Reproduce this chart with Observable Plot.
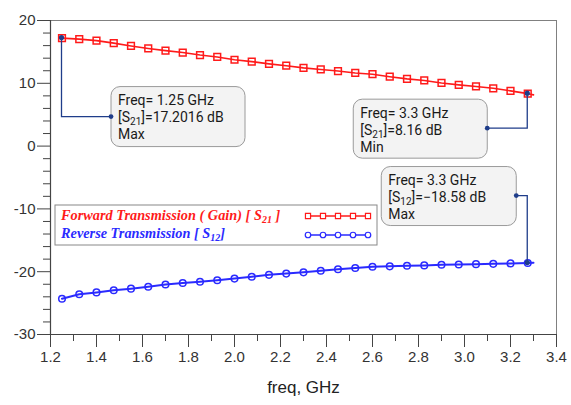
<!DOCTYPE html>
<html><head><meta charset="utf-8">
<script src="https://cdn.jsdelivr.net/npm/d3@7"></script>
<script src="https://cdn.jsdelivr.net/npm/@observablehq/plot@0.6"></script>
<style>
body{margin:0;background:#fff}
#chart{position:relative;width:571px;height:405px}
</style>
</head><body><div id="chart"></div>
<script>
// ---- data ----
const freq = [1.25,1.325,1.4,1.475,1.55,1.625,1.7,1.775,1.85,1.925,2.0,2.075,2.15,2.225,2.3,2.375,2.45,2.525,2.6,2.675,2.75,2.825,2.9,2.975,3.05,3.125,3.2,3.275,3.3];
const s21 = [17.20,17.04,16.8,16.4,15.95,15.55,15.2,14.9,14.5,14.2,13.75,13.45,13.1,12.8,12.45,12.2,11.95,11.65,11.45,11.05,10.7,10.45,10.05,9.75,9.5,9.2,8.8,8.35,8.16];
const s12 = [-24.3,-23.6,-23.3,-22.95,-22.7,-22.4,-22.05,-21.8,-21.6,-21.35,-21.1,-20.8,-20.5,-20.3,-20.1,-19.85,-19.6,-19.4,-19.22,-19.15,-19.05,-19.0,-18.9,-18.85,-18.8,-18.75,-18.68,-18.62,-18.58];
const markerCount = 28;
const xMajor = [1.2,1.4,1.6,1.8,2.0,2.2,2.4,2.6,2.8,3.0,3.2,3.4];
const xMinor = [1.3,1.5,1.7,1.9,2.1,2.3,2.5,2.7,2.9,3.1,3.3];
const yMajor = [-30,-20,-10,0,10,20];
const yMinor = [-28,-26,-24,-22,-18,-16,-14,-12,-8,-6,-4,-2,2,4,6,8,12,14,16,18];
const seriesNames = ["Forward Transmission ( Gain) [ S", "Reverse Transmission [ S"];
const seriesSubs = ["21", "12"];
const seriesEnds = [" ]", "]"];
const annotations = [
  {key: "s21", index: 0, lines: ["Freq= 1.25 GHz", ["[S","21","]=17.2016 dB"], "Max"]},
  {key: "s21", index: 27, lines: ["Freq= 3.3 GHz", ["[S","21","]=8.16 dB"], "Min"]},
  {key: "s12", index: 27, lines: ["Freq= 3.3 GHz", ["[S","12","]=\u221218.58 dB"], "Max"]}
];

// ---- layout (pixels) ----
const annLayout = [
  {bx: 49.5, by: 49, w: 134, h: 60, elbow: 79, side: "left"},
  {bx: -174, by: 6, w: 134, h: 59, elbow: 35, side: "right"},
  {bx: -146, by: -96, w: 135, h: 59, elbow: -67, side: "right"}
];
const RED = "#ff1a1a", BLUE = "#2a2aff", NAVY = "#1f3d8a";

const data = freq.map((f, i) => ({freq: f, s21: s21[i], s12: s12[i]}));
const markers = data.slice(0, markerCount);

const plot = Plot.plot({
  width: 571, height: 405,
  marginLeft: 50, marginRight: 15, marginTop: 20, marginBottom: 71,
  style: {background: "#fff", fontFamily: "'Liberation Sans', Arial, sans-serif", color: "#333"},
  x: {domain: [1.2, 3.4]},
  y: {domain: [-30, 20]},
  marks: [
    Plot.frame({stroke: "#808080", strokeWidth: 1}),
    Plot.axisY({ticks: yMajor, tickSize: 13, tickPadding: 2, fontSize: 15, tickFormat: d => String(d), label: null, stroke: "#444"}),
    Plot.axisY({ticks: yMinor, tickSize: 7, tickFormat: () => "", label: null, stroke: "#444"}),
    Plot.axisX({ticks: xMajor, tickSize: 13, tickPadding: 4, fontSize: 15, tickFormat: d => d.toFixed(1), label: null, stroke: "#444"}),
    Plot.axisX({ticks: xMinor, tickSize: 7, tickFormat: () => "", label: null, stroke: "#444"}),
    Plot.ruleX([1.2], {stroke: "#444", strokeWidth: 1.2}),
    Plot.ruleY([-30], {stroke: "#444", strokeWidth: 1.2}),
    Plot.line(data, {x: "freq", y: "s21", stroke: RED, strokeWidth: 1.6}),
    Plot.dot(markers, {x: "freq", y: "s21", symbol: "square", r: 3.8, stroke: RED, strokeWidth: 1.5, fill: "none"}),
    Plot.line(data, {x: "freq", y: "s12", stroke: BLUE, strokeWidth: 2}),
    Plot.dot(markers, {x: "freq", y: "s12", symbol: "circle", r: 3.3, stroke: BLUE, strokeWidth: 1.5, fill: "none"}),
    Plot.text(["freq, GHz"], {frameAnchor: "bottom", dy: 58, fontSize: 17, fill: "#222"})
  ]
});
document.getElementById("chart").append(plot);

const sx = plot.scale("x"), sy = plot.scale("y");
const svg = d3.select(plot);

// ---- marker annotations ----
const ag = svg.append("g").attr("text-anchor", "start");
annotations.forEach((a, k) => {
  const L = annLayout[k];
  const d = data[a.index];
  const px = sx.apply(d.freq), py = sy.apply(d[a.key]);
  const bx = px + L.bx, by = py + L.by;
  const dotX = L.side === "left" ? bx : bx + L.w;
  const ey = py + L.elbow;
  ag.append("rect").attr("x", bx).attr("y", by).attr("width", L.w).attr("height", L.h)
    .attr("rx", 9).attr("fill", "#f3f3f3").attr("stroke", "#9a9a9a").attr("stroke-width", 1);
  ag.append("path").attr("d", `M${px},${py}V${ey}H${dotX}`).attr("fill", "none")
    .attr("stroke", NAVY).attr("stroke-width", 1.3);
  ag.append("circle").attr("cx", dotX).attr("cy", ey).attr("r", 2.4).attr("fill", NAVY);
  ag.append("circle").attr("cx", px).attr("cy", py).attr("r", 2.6).attr("fill", NAVY);
  a.lines.forEach((ln, j) => {
    const t = ag.append("text").attr("x", bx + 7).attr("y", by + 18.5 + j * 17).attr("text-anchor", "start")
      .attr("font-family", "Roboto, 'DejaVu Sans', sans-serif").attr("font-size", 14).attr("fill", "#1a1a1a");
    if (Array.isArray(ln)) {
      t.append("tspan").text(ln[0]);
      t.append("tspan").text(ln[1]).attr("font-size", 10).attr("dy", 3);
      t.append("tspan").text(ln[2]).attr("dy", -3);
    } else t.text(ln);
  });
});

// ---- legend ----
const lg = svg.append("g").attr("text-anchor", "start");
const leg = {x: 55, y: 205, w: 322, h: 40, textX: 61, rows: [220, 238], sx0: 308, sx1: 368, rowsY: [216, 235]};
lg.append("rect").attr("x", leg.x).attr("y", leg.y).attr("width", leg.w).attr("height", leg.h)
  .attr("fill", "#fff").attr("stroke", "#888");
[RED, BLUE].forEach((c, i) => {
  const t = lg.append("text").attr("x", leg.textX).attr("y", leg.rows[i]).attr("text-anchor", "start")
    .attr("font-family", "'Liberation Serif', 'Times New Roman', serif").attr("font-weight", "bold")
    .attr("font-style", "italic").attr("font-size", 14.3).attr("fill", c);
  t.append("tspan").text(seriesNames[i]);
  t.append("tspan").text(seriesSubs[i]).attr("font-size", 10).attr("dy", 3);
  t.append("tspan").text(seriesEnds[i]).attr("dy", -3);
  const yy = leg.rowsY[i];
  lg.append("line").attr("x1", leg.sx0).attr("x2", leg.sx1).attr("y1", yy).attr("y2", yy)
    .attr("stroke", c).attr("stroke-width", 1.5);
  const sym = d3.symbol(i === 0 ? d3.symbolSquare : d3.symbolCircle, i === 0 ? 26 : 24);
  for (let m = 0; m < 5; m++) {
    lg.append("path").attr("d", sym()).attr("transform", `translate(${leg.sx0 + m * 15},${yy})`)
      .attr("fill", "#fff").attr("stroke", c).attr("stroke-width", 1.2);
  }
});
</script>
</body></html>
